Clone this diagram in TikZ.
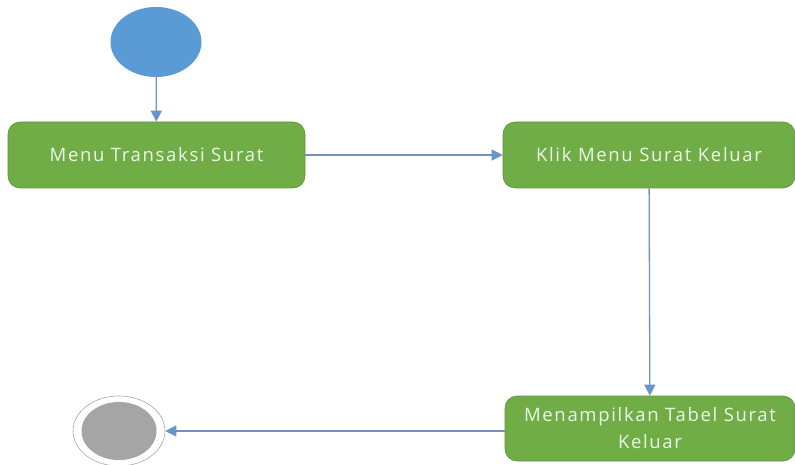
\documentclass[tikz,border=0pt]{standalone}
\usepackage{fontspec}
\newfontfamily\boxfont[LetterSpace=9]{Open Sans}
\usetikzlibrary{shapes, arrows.meta}

\definecolor{actgreen}{HTML}{70AD47}
\definecolor{startblue}{HTML}{5B9BD5}
\definecolor{flowline}{HTML}{6F93BE}
\definecolor{endgray}{HTML}{A5A5A5}

\tikzset{
  action/.style={rectangle, rounded corners=12pt, fill=actgreen, draw=actgreen!85!black,
                 line width=0.6pt, text=white!88!actgreen, align=center,
                 font=\boxfont\fontsize{18.5}{27}\selectfont, inner sep=0pt},
  flow/.style={-{Triangle[length=11pt,width=11pt,fill=startblue]}, draw=flowline, line width=1.3pt}
}

\begin{document}
\begin{tikzpicture}[x=1pt, y=-1pt]
    \useasboundingbox (0,0) rectangle (795,465);

    % Start state
    \node[ellipse, fill=startblue, minimum width=91pt, minimum height=70pt, inner sep=0pt] (start) at (156,42) {};

    % Actions
    \node[action, minimum width=297pt, minimum height=66pt] (menu) at (156.5,155) {Menu Transaksi Surat};
    \node[action, minimum width=292pt, minimum height=66pt] (klik) at (649,155) {Klik Menu Surat Keluar};
    \node[action, minimum width=290pt, minimum height=65pt] (tabel) at (650,428.5) {Menampilkan Tabel Surat\\Keluar};

    % End state
    \node[ellipse, draw=gray!70, line width=0.6pt, fill=white, minimum width=92pt, minimum height=70pt, inner sep=0pt] (stop) at (119,431) {};
    \node[ellipse, fill=endgray, minimum width=75pt, minimum height=58pt, inner sep=0pt] (stopdot) at (stop) {};

    % Flows
    \draw[flow] (start) -- (menu);
    \draw[flow] (menu) -- (klik);
    \draw[flow] (klik) -- (tabel);
    \draw[flow] (tabel.west |- stop) -- (stop);
\end{tikzpicture}
\end{document}
